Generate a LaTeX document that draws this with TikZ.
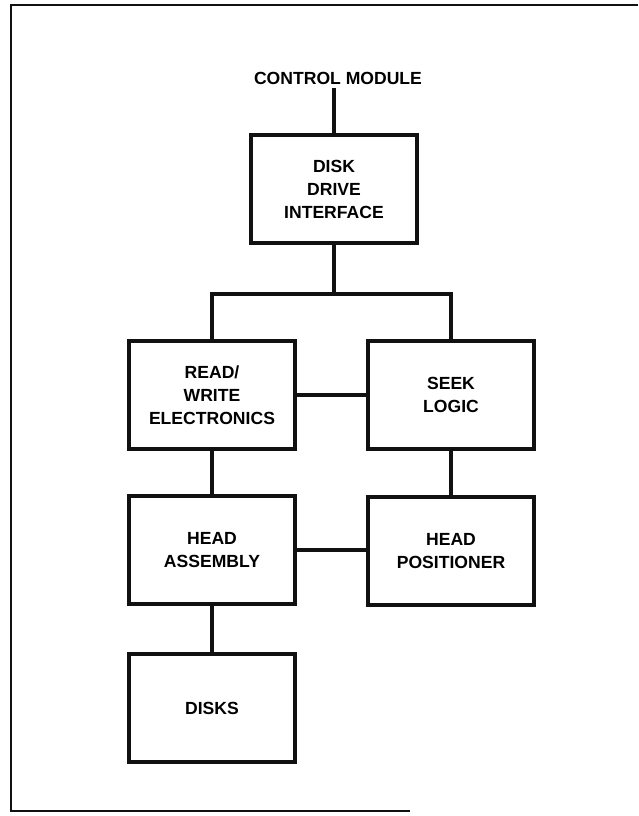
\documentclass[tikz,border=0pt]{standalone}
\usepackage{fontspec}
\setmainfont{Liberation Sans}
\usetikzlibrary{positioning}
\definecolor{dink}{HTML}{111111}
\tikzset{
  blk/.style={draw=dink, line width=3.3pt, rectangle, minimum width=5.0cm,
              minimum height=3.25cm, inner sep=0pt, align=center,
              font=\fontsize{15}{19.6}\selectfont\bfseries},
  lbl/.style={inner sep=0pt, font=\fontsize{15}{19.6}\selectfont\bfseries},
  link/.style={draw=dink, line width=2.7pt},
  frame/.style={draw=dink, line width=1.3pt},
}
\begin{document}
\begin{tikzpicture}[x=0.03cm, y=-0.03cm]
    \useasboundingbox (0,0) rectangle (638,816);
    \draw[frame] (638,5) -- (11,5) -- (11,811) -- (410,811);

    \node[lbl] (ctrl) at (338, 78) {CONTROL MODULE};
    \node[blk] (ddi) at (334, 189) {DISK\\DRIVE\\INTERFACE};
    \coordinate (bus) at (334, 294);

    \node[blk] (rw) at (212, 395) {READ/\\WRITE\\ELECTRONICS};
    \node[blk] (seek) at (451, 395) {SEEK\\LOGIC};
    \node[blk] (head) at (212, 550) {HEAD\\ASSEMBLY};
    \node[blk] (pos) at (451, 551) {HEAD\\POSITIONER};
    \node[blk] (disks) at (212, 708) {DISKS};

    \draw[link] (ddi.north) -- ([yshift=-3pt]ddi.north |- ctrl.south);
    \draw[link] (ddi.south) -- (bus);
    \draw[link] (rw.north) |- (bus) -| (seek.north);
    \draw[link] (rw.east) -- (seek.west);
    \draw[link] (rw.south) -- (head.north);
    \draw[link] (seek.south) -- (pos.north);
    \draw[link] (head.east) -- (head.east -| pos.west);
    \draw[link] (head.south) -- (disks.north);
  \end{tikzpicture}
\end{document}
